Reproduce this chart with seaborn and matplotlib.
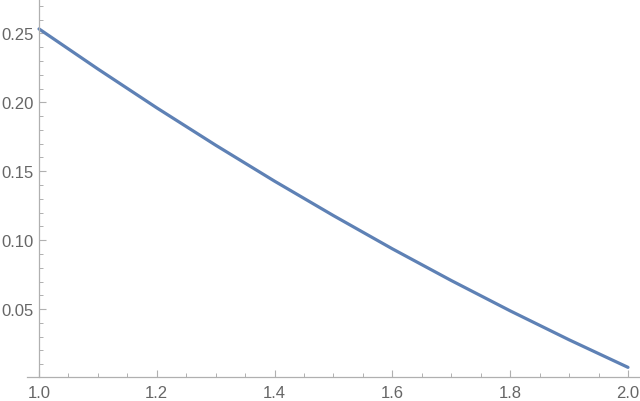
import matplotlib
matplotlib.use("Agg")
import matplotlib.pyplot as plt
import seaborn as sns
import pandas as pd
from matplotlib.ticker import MultipleLocator, FormatStrFormatter

x_vals = [1.0, 1.1, 1.2, 1.3, 1.4, 1.5, 1.6, 1.7, 1.8, 1.9, 2.0]
y_vals = [0.2533, 0.2242, 0.1960, 0.1689, 0.1428, 0.1178, 0.0937, 0.0707, 0.0487, 0.0277, 0.0077]
x_ticks = [1.0, 1.2, 1.4, 1.6, 1.8, 2.0]
y_ticks = [0.05, 0.10, 0.15, 0.20, 0.25]

df = pd.DataFrame({"x": x_vals, "y": y_vals})

sns.set_style("white")
plt.rcParams["font.family"] = ["Liberation Sans", "DejaVu Sans"]

fig = plt.figure(figsize=(6.4, 4.02), dpi=100)
ax = fig.add_axes([27 / 640, 24 / 402, 613 / 640, 378 / 402])

sns.lineplot(data=df, x="x", y="y", ax=ax, color="#5E81B5", linewidth=2.3)

ax.set_xlim(0.9796, 2.0204)
ax.set_ylim(0.0007, 0.275)

axis_col = "#b0b0b0"
for s in ["top", "right"]:
    ax.spines[s].set_visible(False)
ax.spines["left"].set_position(("data", 1.0))
ax.spines["left"].set_color(axis_col)
ax.spines["bottom"].set_color(axis_col)
ax.spines["left"].set_linewidth(0.9)
ax.spines["bottom"].set_linewidth(0.9)

ax.set_xticks(x_ticks)
ax.set_yticks(y_ticks)
ax.xaxis.set_minor_locator(MultipleLocator(0.05))
ax.yaxis.set_minor_locator(MultipleLocator(0.01))
ax.xaxis.set_major_formatter(FormatStrFormatter("%.1f"))
ax.yaxis.set_major_formatter(FormatStrFormatter("%.2f"))

ax.tick_params(axis="both", which="major", direction="in", length=5, width=0.8,
               color=axis_col, labelcolor="#666666", labelsize=12)
ax.tick_params(axis="both", which="minor", direction="in", length=3, width=0.7,
               color=axis_col)
ax.tick_params(axis="x", which="both", bottom=True, pad=6)
ax.tick_params(axis="y", which="both", left=True, pad=4)

ax.set_xlabel("")
ax.set_ylabel("")
ax.grid(False)

fig.savefig("out.png", dpi=100)
